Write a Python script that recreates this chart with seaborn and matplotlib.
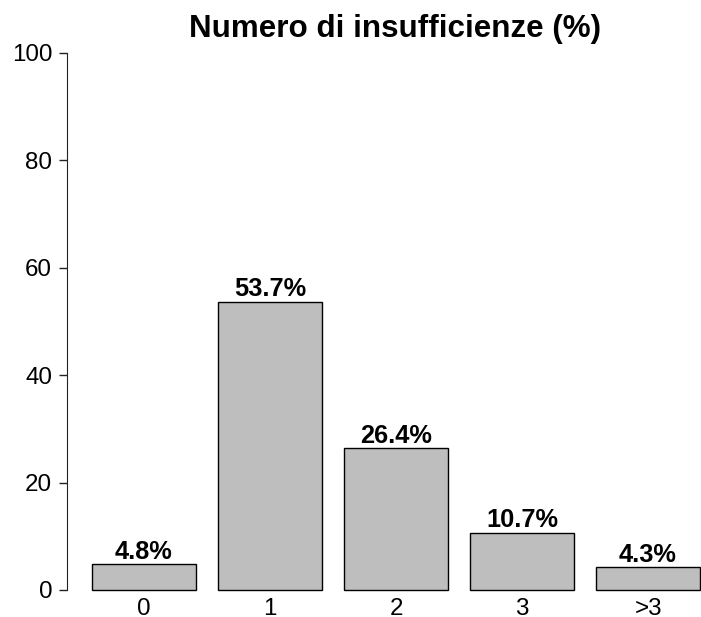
import seaborn as sns
import matplotlib.pyplot as plt

TITLE = "Numero di insufficienze (%)"
categories = ["0", "1", "2", "3", ">3"]
percent = [4.8, 53.7, 26.4, 10.7, 4.3]
y_ticks = [0, 20, 40, 60, 80, 100]


def main() -> None:
    sns.set_style("ticks")
    plt.rcParams['font.family'] = ['Liberation Sans', 'DejaVu Sans']
    plt.rcParams.update({'text.color': 'black', 'xtick.color': 'black',
                         'ytick.color': 'black', 'axes.labelcolor': 'black'})

    fig = plt.figure(figsize=(7.01, 6.17), dpi=100)
    ax = fig.add_axes([67 / 701, 27 / 617, 657 / 701, 558.5 / 617])

    sns.barplot(x=categories, y=percent, order=categories, color='#BEBEBE',
                saturation=1, edgecolor='black', linewidth=1, width=0.83, ax=ax)
    for p in ax.patches:
        p.set_clip_on(False)

    for i, v in enumerate(percent):
        ax.annotate(f"{v}%", (i, v), xytext=(0, 3.8), textcoords='offset points',
                    ha='center', va='baseline', fontsize=18.3, fontweight='bold')

    ax.set_xlim(-0.611, 4.603)
    ax.set_ylim(0, 104)
    ax.set_yticks(y_ticks)
    ax.spines['left'].set_bounds(0, 100)
    for s in ['top', 'right', 'bottom']:
        ax.spines[s].set_visible(False)
    ax.spines['left'].set_color('#222222')
    ax.tick_params(axis='y', length=5.8, width=1, pad=5, labelsize=17.4, color='#222222')
    ax.tick_params(axis='x', length=0, pad=6, labelsize=17.4)
    ax.set_xlabel('')
    ax.set_ylabel('')

    fig.text(395.5 / 701, 1 - 37 / 617, TITLE, ha='center', va='baseline',
             fontsize=22.6, fontweight='bold')

    fig.savefig('out.png', dpi=100)


if __name__ == '__main__':
    main()
